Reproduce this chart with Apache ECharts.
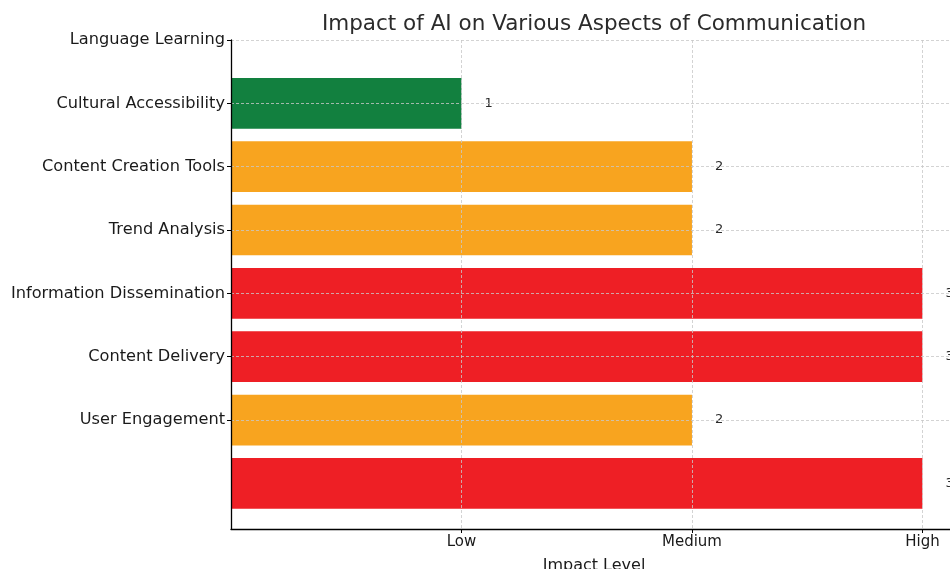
<!DOCTYPE html>
<html>
<head>
    <meta charset="UTF-8">
    <title>Impact of AI on Various Aspects of Communication</title>
    <script src="https://cdn.jsdelivr.net/npm/echarts@6/dist/echarts.min.js"></script>
</head>
<body style="margin:0;">
<div id="main" style="width:950px; height:569px;"></div>
<script type="text/javascript">
    // tick labels on the y axis (positions 1..7, bottom to top)
    var yLabels = ['User Engagement', 'Content Delivery', 'Information Dissemination',
        'Trend Analysis', 'Content Creation Tools', 'Cultural Accessibility', 'Language Learning'];
    var yTickPos = [1, 2, 3, 4, 5, 6, 7];
    // bars are drawn at positions 0..6 (shifted one below the labels, as in the original)
    var barPos = [0, 1, 2, 3, 4, 5, 6];
    var impactValues = [3, 2, 3, 3, 2, 2, 1];
    var levelNames = {1: 'Low', 2: 'Medium', 3: 'High'};
    var xTickPos = [1, 2, 3];

    var levelColor = {1: '#12803f', 2: '#f8a41f', 3: '#ee1f25'};
    var font = 'DejaVu Sans';

    var chart = echarts.init(document.getElementById('main'));

    var seriesData = barPos.map(function (p, i) { return [impactValues[i], p]; });

    var option = {
        animation: false,
        title: {
            text: 'Impact of AI on Various Aspects of Communication',
            left: 594,
            textAlign: 'center',
            top: 8,
            textStyle: {fontFamily: font, fontSize: 21.5, fontWeight: 'normal', color: '#2b2b2b'}
        },
        grid: {left: 231, top: 40, bottom: 40, width: 726, outerBoundsMode: 'none', containLabel: false},
        xAxis: {
            type: 'value',
            min: 0,
            max: 3.15,
            z: 10,
            name: 'Impact Level',
            nameLocation: 'middle',
            nameGap: 29,
            nameTextStyle: {fontFamily: font, fontSize: 16, color: '#1a1a1a'},
            axisLine: {show: true, onZero: false, lineStyle: {color: '#000', width: 1.3}},
            axisTick: {show: true, customValues: xTickPos, length: 4, lineStyle: {color: '#000'}},
            axisLabel: {
                customValues: xTickPos,
                margin: 6,
                fontFamily: font, fontSize: 15, color: '#1a1a1a',
                formatter: function (v) { return levelNames[v] || ''; }
            },
            splitLine: {show: true, lineStyle: {color: '#c8c8c8', type: [3, 2], width: 0.8}}
        },
        yAxis: {
            type: 'value',
            min: -0.72,
            max: 7,
            z: 10,
            axisLine: {show: true, onZero: false, lineStyle: {color: '#000', width: 1.3}},
            axisTick: {show: true, customValues: yTickPos, length: 4, lineStyle: {color: '#000'}},
            axisLabel: {
                customValues: yTickPos,
                margin: 6,
                fontFamily: font, fontSize: 16.2, color: '#1a1a1a',
                formatter: function (v) { return yLabels[v - 1] || ''; }
            },
            splitLine: {show: true, lineStyle: {color: '#c8c8c8', type: [3, 2], width: 0.8}}
        },
        series: [{
            type: 'custom',
            data: seriesData,
            encode: {x: 0, y: 1},
            renderItem: function (params, api) {
                var v = api.value(0), p = api.value(1);
                var start = api.coord([0, p]);
                var end = api.coord([v, p]);
                var h = api.size([0, 0.8])[1];
                var lab = api.coord([v + 0.1, p]);
                return {
                    type: 'group',
                    children: [{
                        type: 'rect',
                        shape: {x: start[0], y: start[1] - h / 2, width: end[0] - start[0], height: h},
                        style: {fill: levelColor[v]}
                    }, {
                        type: 'text',
                        x: lab[0], y: lab[1],
                        style: {
                            text: String(v), fill: '#2b2b2b',
                            font: '13px ' + font,
                            textAlign: 'left', textVerticalAlign: 'middle'
                        }
                    }]
                };
            }
        }]
    };

    chart.setOption(option);
    // nudge the title so its centre sits over the plot centre like the original
    chart.setOption({title: {left: 589}});
</script>
</body>
</html>
